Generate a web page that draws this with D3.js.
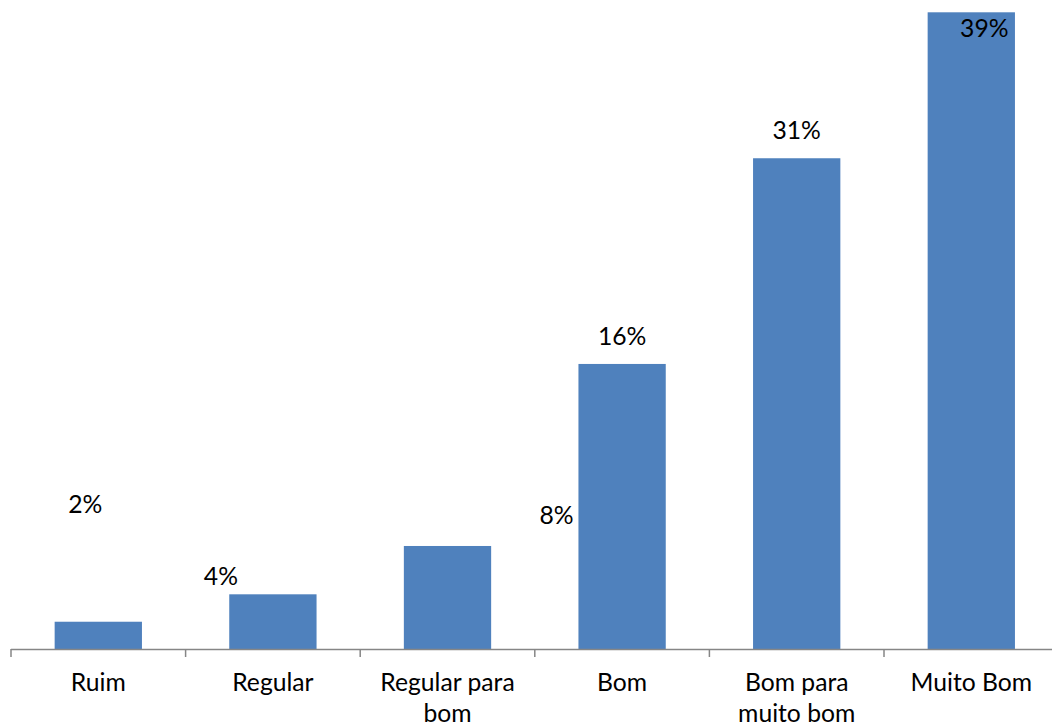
<!DOCTYPE html>
<html>
<head>
<meta charset="utf-8">
<script src="https://cdn.jsdelivr.net/npm/d3@7"></script>
<style>
  html, body { margin: 0; padding: 0; background: #fff; }
  svg { display: block; }
  text { font-family: Lato, "Open Sans", sans-serif; fill: #000; }
</style>
</head>
<body>
<svg id="chart" width="1052" height="727"></svg>
<script>
// ---- data ----
const categories = ["Ruim", "Regular", "Regular para bom", "Bom", "Bom para muito bom", "Muito Bom"];
const values = [1.67, 3.35, 6.31, 17.46, 30.06, 39];
const labels = ["2%", "4%", "8%", "16%", "31%", "39%"];
// manual label nudges (pixels) relative to default "outside end" position
const labelNudges = [[-13, -90], [-52, 10], [109, -3], [0, 0], [0, 0], [13, 44]];

// ---- layout ----
const W = 1052, H = 727;
const baseY = 649, topY = 12.3;
const svg = d3.select("#chart");

const x = d3.scaleBand().domain(categories).range([11, 1058.6]).paddingInner(0.5).paddingOuter(0.25);
const y = d3.scaleLinear().domain([0, 39]).range([baseY, topY]);

// bars
svg.append("g").selectAll("rect").data(values).join("rect")
  .attr("x", (d, i) => x(categories[i]))
  .attr("y", d => y(d))
  .attr("width", x.bandwidth())
  .attr("height", d => baseY - y(d))
  .attr("fill", "#4F81BD");

// axis line and ticks
const step = x.step();
const start = x.range()[0];
const ax = svg.append("g").attr("stroke", "#868686").attr("stroke-width", 1.5).attr("fill", "none");
ax.append("line").attr("x1", start).attr("x2", W).attr("y1", baseY + 0.5).attr("y2", baseY + 0.5);
d3.range(categories.length + 1).forEach(i => {
  const tx = start + i * step;
  ax.append("line").attr("x1", tx).attr("x2", tx).attr("y1", baseY).attr("y2", baseY + 8);
});

// category labels with wrapping
const fontSize = 24.7;
const catG = svg.append("g").attr("font-size", fontSize).attr("text-anchor", "middle");
categories.forEach(c => {
  const cx = x(c) + x.bandwidth() / 2;
  const t = catG.append("text").attr("x", cx).attr("y", 691);
  const words = c.split(" ");
  let lines = [], cur = [];
  const probe = catG.append("text").attr("visibility", "hidden");
  words.forEach(w => {
    const test = cur.concat([w]).join(" ");
    probe.text(test);
    if (cur.length && probe.node().getComputedTextLength() > step - 14) {
      lines.push(cur.join(" "));
      cur = [w];
    } else cur.push(w);
  });
  lines.push(cur.join(" "));
  probe.remove();
  lines.forEach((l, li) => {
    t.append("tspan").attr("x", cx).attr("y", 691 + li * 31).text(l);
  });
});

// data labels
svg.append("g").attr("font-size", fontSize).attr("text-anchor", "middle")
  .selectAll("text").data(values).join("text")
  .attr("x", (d, i) => x(categories[i]) + x.bandwidth() / 2 + labelNudges[i][0])
  .attr("y", (d, i) => y(d) - 19 + labelNudges[i][1])
  .text((d, i) => labels[i]);
</script>
</body>
</html>
